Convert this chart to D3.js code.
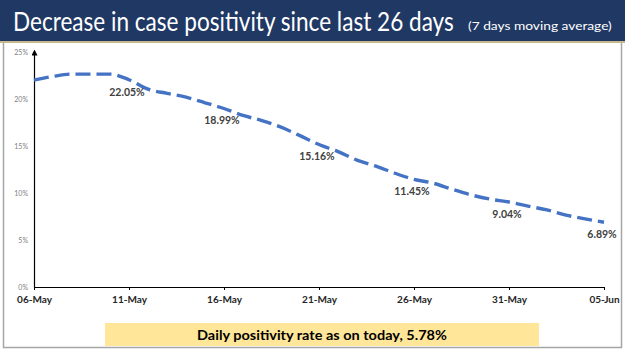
<!DOCTYPE html>
<html>
<head>
<meta charset="utf-8">
<script src="https://cdn.jsdelivr.net/npm/d3@7"></script>
<style>
  html, body { margin: 0; padding: 0; background: #ffffff; }
  svg { display: block; }
</style>
</head>
<body>
<div id="container"></div>
<script>
// data we work with
const startDate = "2021-05-06";
const positivity = [22.0, 22.4, 22.65, 22.65, 22.65, 22.05, 21.05, 20.6, 20.2, 19.6,
                    18.99, 18.25, 17.7, 17.0, 16.1, 15.16, 14.4, 13.5, 12.85, 12.1,
                    11.45, 11.05, 10.4, 9.8, 9.35, 9.04, 8.6, 8.2, 7.65, 7.25, 6.89];
const labelledDays = [5, 10, 15, 20, 25, 30];
const yTicks = [0, 5, 10, 15, 20, 25];
const titleText = "Decrease in case positivity since last 26 days";
const subtitleText = "(7 days moving average)";
const footerText = "Daily positivity rate as on today, 5.78%";

const w = 625;
const h = 351;

let parse = d3.timeParse("%Y-%m-%d");
let day0 = parse(startDate);
let data = positivity.map(function(v, i){
  return {date: d3.timeDay.offset(day0, i), value: v, i: i};
});

let viz = d3.select("#container")
  .append("svg")
    .attr("width", w)
    .attr("height", h)
;

// squeeze a text horizontally so it spans `width` px from x (start anchored)
function fittedText(x, y, width, size, weight, fill, str){
  let g = viz.append("g");
  let t = g.append("text")
    .attr("font-family", "Lato, sans-serif")
    .attr("font-size", size)
    .attr("font-weight", weight)
    .attr("fill", fill)
    .text(str);
  let len = t.node().getComputedTextLength();
  g.attr("transform", "translate(" + x + "," + y + ") scale(" + (width / len) + ",1)");
  return t;
}

// title bar
viz.append("rect").attr("x", 0).attr("y", 0).attr("width", w).attr("height", 41).attr("fill", "#203864");
viz.append("rect").attr("x", 0).attr("y", 41).attr("width", w).attr("height", 2).attr("fill", "#c8b98c");

fittedText(13, 31, 441, 27, "normal", "#ffffff", titleText);
fittedText(468, 30, 144, 11, "normal", "#ffffff", subtitleText);

// slide frame
viz.append("path")
  .attr("d", "M3.5,43 V347.5 H621.5 V43")
  .attr("fill", "none")
  .attr("stroke", "#a6a6a6")
  .attr("stroke-width", 1.5);

let xScale = d3.scaleTime()
  .domain([data[0].date, data[data.length - 1].date])
  .range([34, 604]);
let yScale = d3.scaleLinear().domain([0, 25]).range([287, 52]);

function getX(d){
  return xScale(d.date);
}
function getY(d){
  return yScale(d.value);
}

// arrow for y axis
viz.append("defs").append("marker")
  .attr("id", "arrow")
  .attr("viewBox", "0 0 10 10")
  .attr("refX", 5).attr("refY", 5)
  .attr("markerWidth", 5).attr("markerHeight", 5)
  .attr("orient", "auto")
  .append("path")
    .attr("d", "M0,0 L10,5 L0,10 z")
    .attr("fill", "#000");

let yAxis = viz.append("g")
  .attr("transform", "translate(34,0)")
  .call(d3.axisLeft(yScale).tickValues(yTicks).tickSize(0).tickSizeOuter(0).tickPadding(6)
        .tickFormat(function(d){ return d + "%"; }));
yAxis.select(".domain").attr("stroke", "#000").attr("stroke-width", 1.2).attr("marker-end", "url(#arrow)");
yAxis.selectAll("text")
  .attr("font-family", "Lato, sans-serif")
  .attr("font-size", 7)
  .attr("fill", "#808080");

let xTicks = data.filter(function(d){ return d.i % 5 === 0; }).map(function(d){ return d.date; });
let xAxis = viz.append("g")
  .attr("transform", "translate(0,287)")
  .call(d3.axisBottom(xScale).tickValues(xTicks).tickSize(3).tickSizeOuter(0).tickPadding(6)
        .tickFormat(d3.timeFormat("%d-%b")));
xAxis.select(".domain").attr("stroke", "#000").attr("stroke-width", 1.2);
xAxis.selectAll(".tick line").attr("stroke", "#000");
xAxis.selectAll("text")
  .attr("font-family", "Lato, sans-serif")
  .attr("font-weight", "bold")
  .attr("font-size", 10)
  .attr("fill", "#262626");

let lineMaker = d3.line()
  .x(getX)
  .y(getY)
  .curve(d3.curveMonotoneX)
;

viz.append("path")
  .datum(data)
  .attr("d", lineMaker)
  .attr("fill", "none")
  .attr("stroke", "#4472c4")
  .attr("stroke-width", 3.4)
  .attr("stroke-dasharray", "15,6")
;

viz.selectAll(".vlabel")
  .data(data.filter(function(d){ return labelledDays.indexOf(d.i) >= 0; }))
  .enter()
  .append("text")
    .attr("class", "vlabel")
    .attr("x", function(d){ return getX(d) - 2; })
    .attr("y", function(d){ return getY(d) + 16; })
    .attr("text-anchor", "middle")
    .attr("font-family", "Lato, sans-serif")
    .attr("font-weight", "bold")
    .attr("font-size", 10.5)
    .attr("fill", "#404040")
    .text(function(d){ return d.value.toFixed(2) + "%"; })
;

// footer box
viz.append("rect")
  .attr("x", 105).attr("y", 323).attr("width", 434).attr("height", 23)
  .attr("fill", "#ffe699");
fittedText(197, 340, 250, 14, "bold", "#000000", footerText);
</script>
</body>
</html>
